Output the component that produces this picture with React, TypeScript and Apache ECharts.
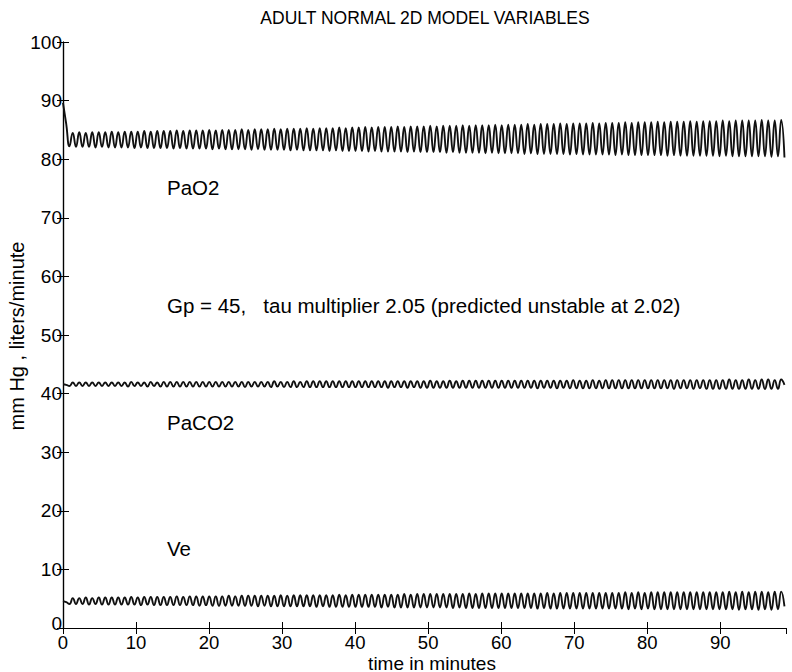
import React, { useEffect, useRef } from "react";
import * as echarts from "echarts";

// sample spacing (minutes) between successive extremes of the oscillation
const HALF_STEP = 0.445;

const xTicks = [0, 10, 20, 30, 40, 50, 60, 70, 80, 90];
const yTicks = [0, 10, 20, 30, 40, 50, 60, 70, 80, 90, 100];

// PaO2
const pao2Start = [89.6, 86.0];
const pao2Troughs = [
  82.2, 82.1, 82.1, 82.1, 82.0, 82.1, 82.0, 82.0, 82.0, 82.0,
  81.9, 82.0, 81.9, 81.9, 81.9, 81.9, 81.8, 81.9, 81.8, 81.8,
  81.8, 81.8, 81.7, 81.8, 81.7, 81.7, 81.7, 81.7, 81.6, 81.7,
  81.6, 81.6, 81.6, 81.6, 81.5, 81.6, 81.5, 81.5, 81.5, 81.5,
  81.4, 81.5, 81.4, 81.4, 81.4, 81.4, 81.3, 81.4, 81.3, 81.3,
  81.3, 81.3, 81.2, 81.3, 81.2, 81.2, 81.2, 81.2, 81.1, 81.2,
  81.1, 81.1, 81.1, 81.1, 81.0, 81.1, 81.0, 81.0, 81.0, 81.0,
  80.9, 81.0, 80.9, 80.9, 80.9, 80.9, 80.9, 80.8, 80.9, 80.8,
  80.8, 80.8, 80.8, 80.8, 80.7, 80.8, 80.7, 80.7, 80.7, 80.7,
  80.7, 80.7, 80.6, 80.7, 80.6, 80.6, 80.6, 80.6, 80.6, 80.6,
  80.5, 80.6, 80.5, 80.5, 80.5, 80.5, 80.5, 80.5, 80.4, 80.5,
];
const pao2Peaks = [
  84.5, 84.6, 84.5, 84.6, 84.6, 84.6, 84.7, 84.6, 84.7, 84.7,
  84.7, 84.8, 84.7, 84.8, 84.8, 84.8, 84.9, 84.8, 84.9, 84.9,
  84.9, 85.0, 84.9, 85.0, 85.0, 85.0, 85.1, 85.0, 85.1, 85.1,
  85.1, 85.2, 85.1, 85.2, 85.2, 85.2, 85.3, 85.2, 85.3, 85.3,
  85.3, 85.4, 85.3, 85.4, 85.4, 85.5, 85.4, 85.5, 85.5, 85.5,
  85.6, 85.5, 85.6, 85.6, 85.6, 85.7, 85.6, 85.7, 85.7, 85.7,
  85.8, 85.7, 85.8, 85.8, 85.8, 85.9, 85.8, 85.9, 85.9, 85.9,
  86.0, 85.9, 86.0, 86.0, 86.0, 86.1, 86.0, 86.1, 86.1, 86.1,
  86.2, 86.1, 86.2, 86.2, 86.2, 86.3, 86.2, 86.3, 86.3, 86.3,
  86.4, 86.3, 86.4, 86.4, 86.4, 86.5, 86.4, 86.5, 86.5, 86.5,
  86.6, 86.5, 86.6, 86.6, 86.6, 86.6, 86.7, 86.6, 86.6, 86.7,
];
const pao2End = [80.3];

// PaCO2
const paco2Start = [41.6, 41.5];
const paco2Troughs = [
  41.3, 41.3, 41.3, 41.3, 41.3, 41.3, 41.3, 41.3, 41.3, 41.2,
  41.3, 41.3, 41.2, 41.3, 41.2, 41.2, 41.2, 41.2, 41.2, 41.2,
  41.2, 41.2, 41.2, 41.2, 41.2, 41.2, 41.2, 41.1, 41.2, 41.2,
  41.2, 41.1, 41.2, 41.1, 41.1, 41.1, 41.1, 41.1, 41.1, 41.1,
  41.1, 41.1, 41.1, 41.1, 41.1, 41.1, 41.1, 41.1, 41.1, 41.0,
  41.1, 41.1, 41.0, 41.1, 41.0, 41.0, 41.0, 41.0, 41.0, 41.0,
  41.0, 41.0, 41.0, 41.0, 41.0, 41.0, 41.0, 41.0, 41.0, 41.0,
  41.0, 41.0, 40.9, 41.0, 41.0, 40.9, 41.0, 40.9, 40.9, 40.9,
  40.9, 40.9, 40.9, 40.9, 40.9, 40.9, 40.9, 40.9, 40.9, 40.9,
  40.9, 40.9, 40.9, 40.8, 40.9, 40.9, 40.8, 40.9, 40.8, 40.8,
  40.8, 40.8, 40.8, 40.8, 40.8, 40.8, 40.8, 40.8, 40.8, 40.8,
];
const paco2Peaks = [
  41.9, 41.9, 41.9, 41.9, 41.9, 41.9, 41.9, 41.9, 41.9, 42.0,
  41.9, 41.9, 42.0, 41.9, 42.0, 42.0, 42.0, 42.0, 42.0, 42.0,
  42.0, 42.0, 42.0, 42.0, 42.0, 42.0, 42.0, 42.0, 42.0, 42.0,
  42.0, 42.1, 42.0, 42.0, 42.1, 42.0, 42.1, 42.1, 42.1, 42.1,
  42.1, 42.1, 42.1, 42.1, 42.1, 42.1, 42.1, 42.1, 42.1, 42.1,
  42.1, 42.1, 42.1, 42.1, 42.1, 42.2, 42.1, 42.1, 42.2, 42.1,
  42.2, 42.2, 42.2, 42.2, 42.2, 42.2, 42.2, 42.2, 42.2, 42.2,
  42.2, 42.2, 42.2, 42.2, 42.2, 42.2, 42.2, 42.3, 42.2, 42.2,
  42.3, 42.2, 42.3, 42.3, 42.3, 42.3, 42.3, 42.3, 42.3, 42.3,
  42.3, 42.3, 42.3, 42.3, 42.3, 42.3, 42.3, 42.3, 42.3, 42.3,
  42.3, 42.4, 42.3, 42.3, 42.4, 42.3, 42.4, 42.4, 42.3, 42.4,
];
const paco2End = [41.5];

// Ve
const veStart = [4.6, 4.4];
const veTroughs = [
  4.1, 4.1, 4.1, 4.0, 4.1, 4.0, 4.0, 4.0, 4.0, 4.0,
  4.0, 3.9, 4.0, 3.9, 3.9, 3.9, 3.9, 3.9, 3.9, 3.9,
  3.8, 3.9, 3.8, 3.8, 3.8, 3.8, 3.8, 3.8, 3.8, 3.7,
  3.8, 3.7, 3.7, 3.7, 3.7, 3.7, 3.7, 3.7, 3.6, 3.7,
  3.6, 3.6, 3.6, 3.6, 3.6, 3.6, 3.6, 3.6, 3.5, 3.6,
  3.5, 3.5, 3.5, 3.5, 3.5, 3.5, 3.5, 3.5, 3.5, 3.4,
  3.5, 3.4, 3.4, 3.4, 3.4, 3.4, 3.4, 3.4, 3.4, 3.4,
  3.4, 3.4, 3.3, 3.4, 3.3, 3.3, 3.3, 3.3, 3.3, 3.3,
  3.3, 3.3, 3.3, 3.3, 3.3, 3.3, 3.2, 3.3, 3.2, 3.3,
  3.2, 3.2, 3.2, 3.2, 3.2, 3.2, 3.2, 3.2, 3.2, 3.2,
  3.2, 3.2, 3.2, 3.1, 3.2, 3.2, 3.1, 3.2, 3.1, 3.2,
];
const vePeaks = [
  5.1, 5.1, 5.2, 5.1, 5.2, 5.2, 5.2, 5.2, 5.2, 5.3,
  5.2, 5.3, 5.3, 5.3, 5.3, 5.3, 5.4, 5.3, 5.4, 5.4,
  5.4, 5.4, 5.4, 5.4, 5.5, 5.4, 5.5, 5.5, 5.5, 5.5,
  5.5, 5.5, 5.6, 5.5, 5.6, 5.6, 5.6, 5.6, 5.6, 5.6,
  5.6, 5.7, 5.6, 5.7, 5.7, 5.7, 5.7, 5.7, 5.7, 5.7,
  5.7, 5.8, 5.7, 5.8, 5.8, 5.8, 5.8, 5.8, 5.8, 5.8,
  5.8, 5.9, 5.8, 5.9, 5.9, 5.9, 5.9, 5.9, 5.9, 5.9,
  5.9, 5.9, 5.9, 6.0, 5.9, 6.0, 6.0, 6.0, 6.0, 6.0,
  6.0, 6.0, 6.0, 6.0, 6.0, 6.1, 6.0, 6.1, 6.0, 6.1,
  6.1, 6.1, 6.1, 6.1, 6.1, 6.1, 6.1, 6.1, 6.1, 6.1,
  6.1, 6.2, 6.1, 6.2, 6.1, 6.2, 6.2, 6.1, 6.2, 6.2,
];
const veEnd = [3.7];

const titleText = "ADULT NORMAL 2D MODEL VARIABLES";
const xName = "time in minutes";
const yName = "mm Hg , liters/minute";
const annotations = [
  { text: "PaO2", x: 167, y: 187 },
  { text: "Gp = 45,   tau multiplier 2.05 (predicted unstable at 2.02)", x: 167, y: 305 },
  { text: "PaCO2", x: 167, y: 422 },
  { text: "Ve", x: 167, y: 548 },
];

const FONT = "'Liberation Sans', Arial, Helvetica, sans-serif";

function build(start: number[], troughs: number[], peaks: number[], end: number[]) {
  const vals: number[] = [...start];
  for (let k = 0; k < troughs.length; k++) {
    vals.push(troughs[k], peaks[k]);
  }
  vals.push(...end);
  return vals.map((v, i) => [+(i * HALF_STEP).toFixed(3), v]);
}

export default function App() {
  const ref = useRef<HTMLDivElement>(null);
  useEffect(() => {
    if (!ref.current) return;
    const chart = echarts.init(ref.current, undefined, { renderer: "svg" });
    const axisLine = { show: true, lineStyle: { color: "#000", width: 1.2 } };
    const axisTick = { show: true, inside: true, length: 6, lineStyle: { color: "#000", width: 1 } };
    const lineSeries = (name: string, data: number[][]) => ({
      name,
      type: "line",
      data,
      symbol: "none",
      smooth: 0.5,
      lineStyle: { color: "#111", width: 1.9 },
      xAxisIndex: 0,
      yAxisIndex: 0,
    });
    chart.setOption({
      animation: false,
      backgroundColor: "#fff",
      grid: { left: 63, right: 6, top: 42, bottom: 44, containLabel: false },
      xAxis: [
        {
          type: "value",
          position: "bottom",
          min: 0,
          max: 99,
          interval: 10,
          axisLine,
          axisTick,
          splitLine: { show: false },
          axisLabel: {
            color: "#000",
            fontSize: 18.5,
            lineHeight: 14,
            fontFamily: FONT,
            margin: 7,
            showMaxLabel: false,
            formatter: (v: number) => (xTicks.includes(v) ? String(v) : ""),
          },
        },
        {
          type: "value",
          position: "top",
          min: 0,
          max: 99,
          interval: 10,
          axisLine,
          axisTick,
          splitLine: { show: false },
          axisLabel: { show: false },
        },
      ],
      yAxis: [
        {
          type: "value",
          position: "left",
          min: 0,
          max: 100,
          interval: 10,
          axisLine,
          axisTick,
          splitLine: { show: false },
          axisLabel: {
            color: "#000",
            fontSize: 19,
            lineHeight: 14,
            fontFamily: FONT,
            margin: 1,
            formatter: (v: number) =>
              !yTicks.includes(v) ? "" : v === 0 ? "{z|0}" : String(v),
            rich: {
              z: { fontSize: 19, lineHeight: 14, fontFamily: FONT, color: "#000", padding: [0, 0, 10, 0] },
            },
          },
        },
        {
          type: "value",
          position: "right",
          min: 0,
          max: 100,
          interval: 10,
          axisLine,
          axisTick,
          splitLine: { show: false },
          axisLabel: { show: false },
        },
      ],
      series: [
        lineSeries("PaO2", build(pao2Start, pao2Troughs, pao2Peaks, pao2End)),
        lineSeries("PaCO2", build(paco2Start, paco2Troughs, paco2Peaks, paco2End)),
        lineSeries("Ve", build(veStart, veTroughs, vePeaks, veEnd)),
      ],
      graphic: [
        {
          type: "text",
          x: 425,
          y: 18,
          style: { text: titleText, fill: "#000", font: `17.5px ${FONT}`, align: "center", verticalAlign: "middle" },
        },
        {
          type: "text",
          x: 432,
          y: 663,
          style: { text: xName, fill: "#000", font: `19px ${FONT}`, align: "center", verticalAlign: "middle" },
        },
        {
          type: "text",
          x: 17,
          y: 336,
          rotation: Math.PI / 2,
          style: { text: yName, fill: "#000", font: `20px ${FONT}`, align: "center", verticalAlign: "middle" },
        },
        ...annotations.map((a) => ({
          type: "text",
          x: a.x,
          y: a.y,
          style: { text: a.text, fill: "#000", font: `20.5px ${FONT}`, align: "left", verticalAlign: "middle" },
        })),
      ],
    });
    return () => chart.dispose();
  }, []);
  return (
    <div
      ref={ref}
      style={{ position: "fixed", left: 0, top: 0, width: 792, height: 672, background: "#fff" }}
    />
  );
}
